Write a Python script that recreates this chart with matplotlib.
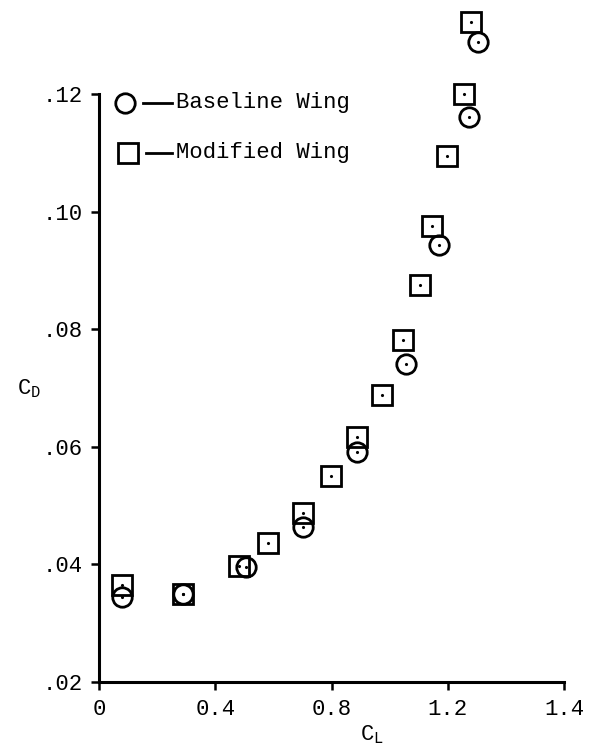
import numpy as np
import matplotlib
matplotlib.use("Agg")
import matplotlib.pyplot as plt

plt.rcParams['font.family'] = ['Liberation Mono', 'DejaVu Sans']

# baseline wing (circles)
cl_base = [0.079, 0.289, 0.506, 0.702, 0.888, 1.056, 1.170, 1.273, 1.304]
cd_base = [0.0345, 0.0349, 0.0396, 0.0464, 0.0591, 0.0741, 0.0943, 0.1161, 0.1288]

# modified wing (squares)
cl_mod = [0.079, 0.289, 0.482, 0.582, 0.702, 0.798, 0.888, 0.974, 1.046, 1.105,
          1.146, 1.197, 1.256, 1.280]
cd_mod = [0.0365, 0.0350, 0.0397, 0.0436, 0.0487, 0.0550, 0.0617, 0.0688, 0.0782,
          0.0875, 0.0976, 0.1095, 0.1200, 0.1322]

xticks = [0, 0.4, 0.8, 1.2, 1.6]
xtick_labels = ["0", "0.4", "0.8", "1.2", "1.4"]
yticks = [0.02, 0.04, 0.06, 0.08, 0.10, 0.12]
ytick_labels = [".02", ".04", ".06", ".08", ".10", ".12"]


def make_figure():
	fig = plt.figure(figsize=(5.94, 7.48), dpi=100)
	ax = fig.add_axes([0.1667, 0.0882, 0.7828, 0.7861])

	mk = dict(linestyle="none", markerfacecolor="none", markeredgecolor="k",
			  markeredgewidth=2.0, clip_on=False)
	ax.plot(cl_mod, cd_mod, marker="s", markersize=14, **mk)
	ax.plot(cl_base, cd_base, marker="o", markersize=14, **mk)
	# little dot in the middle of every symbol
	ax.plot(cl_mod, cd_mod, "k.", markersize=2.5, clip_on=False)
	ax.plot(cl_base, cd_base, "k.", markersize=2.5, clip_on=False)

	ax.set_xlim(0, 1.6)
	ax.set_ylim(0.02, 0.12)
	ax.set_xticks(xticks)
	ax.set_xticklabels(xtick_labels)
	ax.set_yticks(yticks)
	ax.set_yticklabels(ytick_labels)
	ax.tick_params(direction="out", length=6, width=1.8, labelsize=16, pad=6)

	for s in ["top", "right"]:
		ax.spines[s].set_visible(False)
	for s in ["left", "bottom"]:
		ax.spines[s].set_linewidth(2.2)

	ax.set_ylabel(r"C$_\mathregular{D}$", rotation=0, fontsize=16)
	ax.yaxis.set_label_coords(-0.15, 0.48)
	ax.set_xlabel(r"C$_\mathregular{L}$", fontsize=16)
	ax.xaxis.set_label_coords(0.587, -0.07)

	# hand-drawn style legend
	tr = ax.transAxes
	ax.plot([0.056], [0.985], marker="o", markersize=14, transform=tr, **mk)
	ax.plot([0.062], [0.900], marker="s", markersize=14, transform=tr, **mk)
	ax.plot([0.095, 0.157], [0.985, 0.985], "k-", lw=2.0, transform=tr, clip_on=False)
	ax.plot([0.100, 0.157], [0.900, 0.900], "k-", lw=2.0, transform=tr, clip_on=False)
	ax.text(0.166, 0.985, "Baseline Wing", transform=tr, fontsize=16, va="center")
	ax.text(0.166, 0.900, "Modified Wing", transform=tr, fontsize=16, va="center")

	fig.savefig("out.png", dpi=100)


if __name__ == "__main__":
	make_figure()
